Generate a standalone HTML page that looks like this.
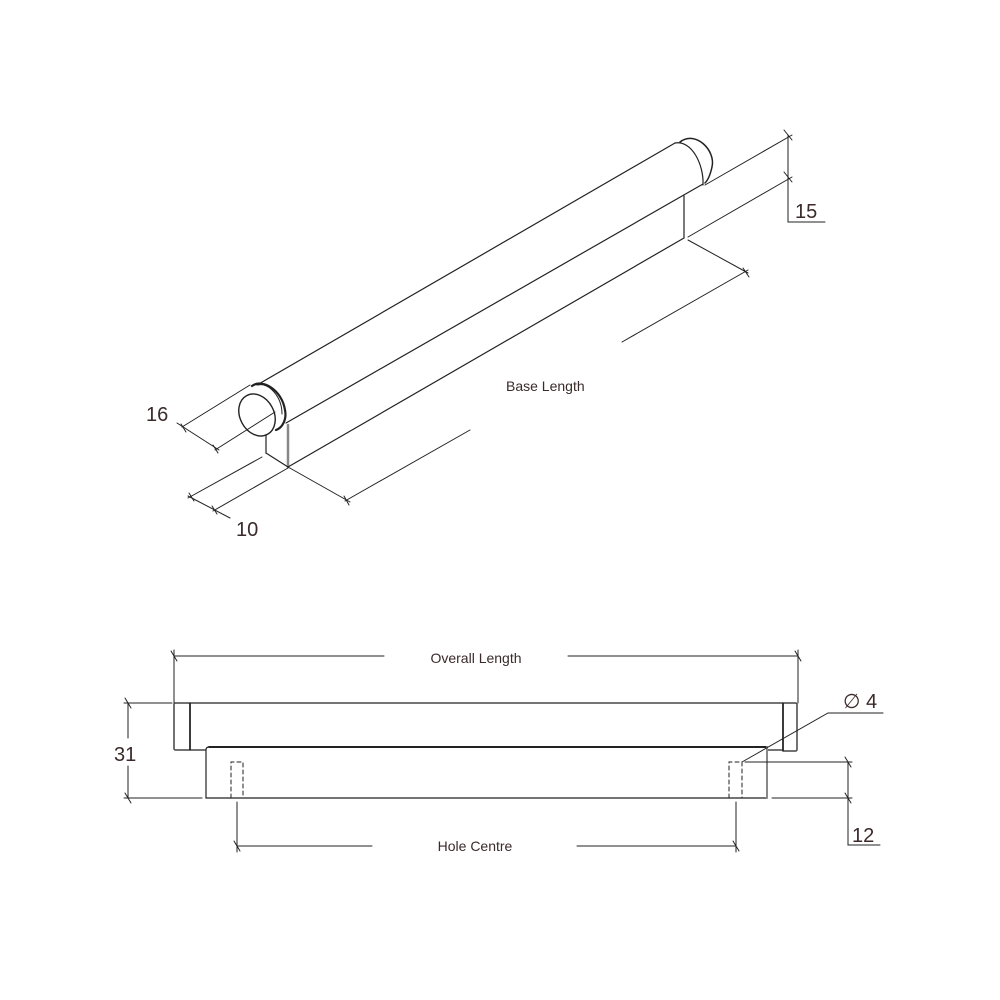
<!DOCTYPE html>
<html><head><meta charset="utf-8"><style>
html,body{margin:0;padding:0;background:#fff}
svg{display:block}
text{font-family:"Liberation Sans",sans-serif;fill:#3a2a2a}
</style></head><body>
<svg width="1000" height="1000" viewBox="0 0 1000 1000" xmlns="http://www.w3.org/2000/svg">
<g fill="none" stroke="#222" stroke-width="1.2" stroke-linecap="round">
<line x1="257" y1="385" x2="675" y2="143"/>
<line x1="286" y1="423" x2="703" y2="184"/>
<path d="M675 143 C692 140 704 165 703 185" />
<path d="M680 142 C695 130 716 150 712 167 C710 176 708 180 705 183" stroke-width="1.5"/>
<path d="M252 386 C262 378 282 390 285 410 C287 420 282 428 276 430" stroke-width="2.2"/>
<path d="M258 385 C268 382 282 396 282 414" stroke-width="1"/>
<ellipse cx="257" cy="415" rx="17" ry="22" transform="rotate(-28 257 415)" fill="#fff" stroke-width="1.4"/>
<line x1="266" y1="435" x2="266" y2="453"/>
<line x1="288" y1="425" x2="288" y2="467" stroke="#888" stroke-width="2.5"/>
<line x1="266" y1="453" x2="288" y2="467"/>
<line x1="288" y1="467" x2="684" y2="238"/>
<line x1="684" y1="196" x2="684" y2="238"/>
<g stroke-width="1">
<line x1="705" y1="185" x2="792" y2="135"/>
<line x1="688" y1="237" x2="792" y2="177"/>
<polyline points="788,135 788,222 825,222"/>
<line x1="784" y1="130" x2="792" y2="140"/><line x1="784" y1="172" x2="792" y2="182"/>
<line x1="688" y1="240" x2="748" y2="273"/>
<line x1="748" y1="270" x2="622" y2="342"/>
<line x1="470" y1="430" x2="345" y2="501"/>
<line x1="288" y1="467" x2="350" y2="502"/>
<line x1="743" y1="268" x2="749" y2="277"/><line x1="344" y1="496" x2="349" y2="505"/>
<line x1="275" y1="412" x2="215" y2="450"/>
<line x1="250" y1="385" x2="182" y2="427"/>
<line x1="177" y1="423" x2="219" y2="450"/>
<line x1="181" y1="424" x2="186" y2="432"/><line x1="213" y1="445" x2="218" y2="453"/>
<line x1="262" y1="457" x2="188" y2="498"/>
<line x1="288" y1="468" x2="213" y2="511"/>
<line x1="188" y1="496" x2="230" y2="518"/>
<line x1="189" y1="493" x2="194" y2="501"/><line x1="212" y1="506" x2="217" y2="514"/>
</g>
<rect x="174" y="703" width="16" height="47" rx="1.5" stroke="#444" stroke-width="1.5"/>
<line x1="190" y1="703" x2="190" y2="750" stroke-width="1.6"/>
<line x1="190" y1="703" x2="783" y2="703"/>
<line x1="190" y1="750" x2="783" y2="750"/>
<rect x="783" y="703" width="14" height="48" rx="1.5" stroke="#444" stroke-width="1.5"/>
<line x1="783" y1="703" x2="783" y2="751" stroke-width="1.6"/>
<path d="M206 798 L206 750 Q206 747 209 747 L767 747 L767 798 Z" fill="#fff" stroke-width="1.2"/>
<line x1="209" y1="747" x2="767" y2="747" stroke-width="2"/>
<line x1="767" y1="747" x2="767" y2="798" stroke="#888" stroke-width="2"/>
<g stroke-dasharray="4 3" stroke-width="1">
<polyline points="231,798 231,762 243,762 243,798"/>
<polyline points="729,798 729,762 742,762 742,798"/>
</g>
<g stroke-width="1">
<line x1="174" y1="650" x2="174" y2="703"/>
<line x1="798" y1="650" x2="798" y2="703"/>
<line x1="174" y1="656" x2="384" y2="656"/>
<line x1="568" y1="656" x2="798" y2="656"/>
<line x1="171" y1="651" x2="177" y2="661"/><line x1="795" y1="651" x2="801" y2="661"/>
<line x1="124" y1="703" x2="172" y2="703"/>
<line x1="124" y1="798" x2="202" y2="798"/>
<line x1="128" y1="703" x2="128" y2="738"/>
<line x1="128" y1="766" x2="128" y2="798"/>
<line x1="125" y1="698" x2="131" y2="708"/><line x1="125" y1="793" x2="131" y2="803"/>
<line x1="745" y1="762" x2="852" y2="762"/>
<line x1="772" y1="798" x2="852" y2="798"/>
<polyline points="848,762 848,845 880,845"/>
<line x1="845" y1="757" x2="851" y2="767"/><line x1="845" y1="793" x2="851" y2="803"/>
<polyline points="742,762 828,713 883,713"/>
<line x1="237" y1="802" x2="237" y2="852"/>
<line x1="736" y1="802" x2="736" y2="852"/>
<line x1="237" y1="846" x2="372" y2="846"/>
<line x1="577" y1="846" x2="736" y2="846"/>
<line x1="234" y1="841" x2="240" y2="851"/><line x1="733" y1="841" x2="739" y2="851"/>
</g>
</g>
<text x="506" y="391" font-size="14">Base Length</text>
<text x="146" y="421" font-size="20">16</text>
<text x="236" y="536" font-size="20">10</text>
<text x="795" y="218" font-size="20">15</text>
<text x="476" y="663" font-size="14" text-anchor="middle">Overall Length</text>
<text x="114" y="761" font-size="20">31</text>
<text x="843" y="708" font-size="20">∅ 4</text>
<text x="852" y="842" font-size="20">12</text>
<text x="475" y="851" font-size="14" text-anchor="middle">Hole Centre</text>
</svg>
</body></html>
